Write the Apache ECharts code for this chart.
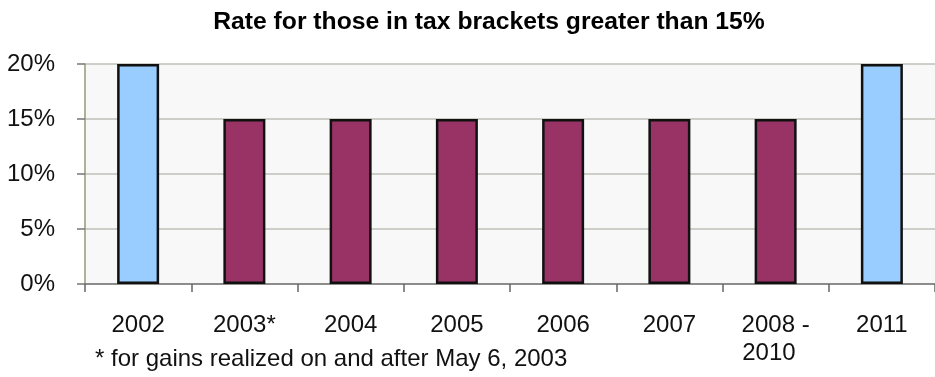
<!DOCTYPE html>
<html><head><meta charset="utf-8">
<script src="https://cdn.jsdelivr.net/npm/echarts@6/dist/echarts.min.js"></script>
<style>html,body{margin:0;padding:0;background:#fff}#c{width:935px;height:377px}</style>
</head><body><div id="c"></div>
<script>
const categories = ['2002', '2003*', '2004', '2005', '2006', '2007', '2008 -\n2010  ', '2011'];
const rates = [20, 15, 15, 15, 15, 15, 15, 20];
const yTicks = [0, 5, 10, 15, 20];
const highlighted = ['2002', '2011'];

const chart = echarts.init(document.getElementById('c'), null, {renderer: 'canvas'});
const font = 'Arial, "Liberation Sans", Helvetica, sans-serif';
chart.setOption({
  animation: false,
  backgroundColor: '#ffffff',
  title: {
    text: 'Rate for those in tax brackets greater than 15%',
    left: 484, top: 5, textAlign: 'center',
    textStyle: {fontFamily: font, fontSize: 24.7, fontWeight: 'bold', color: '#000'}
  },
  graphic: [{
    type: 'text', left: 95, top: 347,
    style: {text: '* for gains realized on and after May 6, 2003', font: '24px ' + font, fill: '#111'}
  }],
  grid: {left: 85, top: 64, width: 859, height: 220, show: true, backgroundColor: '#f8f8f8', borderWidth: 0},
  xAxis: {
    type: 'category', data: categories,
    axisLine: {lineStyle: {color: '#777', width: 1.5}},
    axisTick: {show: true, length: 8, lineStyle: {color: '#666', width: 1.5}},
    axisLabel: {fontFamily: font, fontSize: 24, color: '#111', margin: 27, lineHeight: 28, interval: 0}
  },
  yAxis: {
    type: 'value', min: yTicks[0], max: yTicks[yTicks.length - 1], interval: 5,
    axisLine: {show: true, lineStyle: {color: '#99997a', width: 1.5}},
    axisTick: {show: true, length: 8, lineStyle: {color: '#777', width: 1.5}},
    axisLabel: {fontFamily: font, fontSize: 24, color: '#111', margin: 30, formatter: v => v + '%'},
    splitLine: {show: true, lineStyle: {color: '#c0c0b8', width: 1.5}}
  },
  series: [{
    type: 'bar', data: rates, barWidth: 42,
    itemStyle: {
      color: p => highlighted.includes(categories[p.dataIndex]) ? '#99ccff' : '#993366',
      borderColor: '#111', borderWidth: 2.5
    }
  }]
});
</script></body></html>
